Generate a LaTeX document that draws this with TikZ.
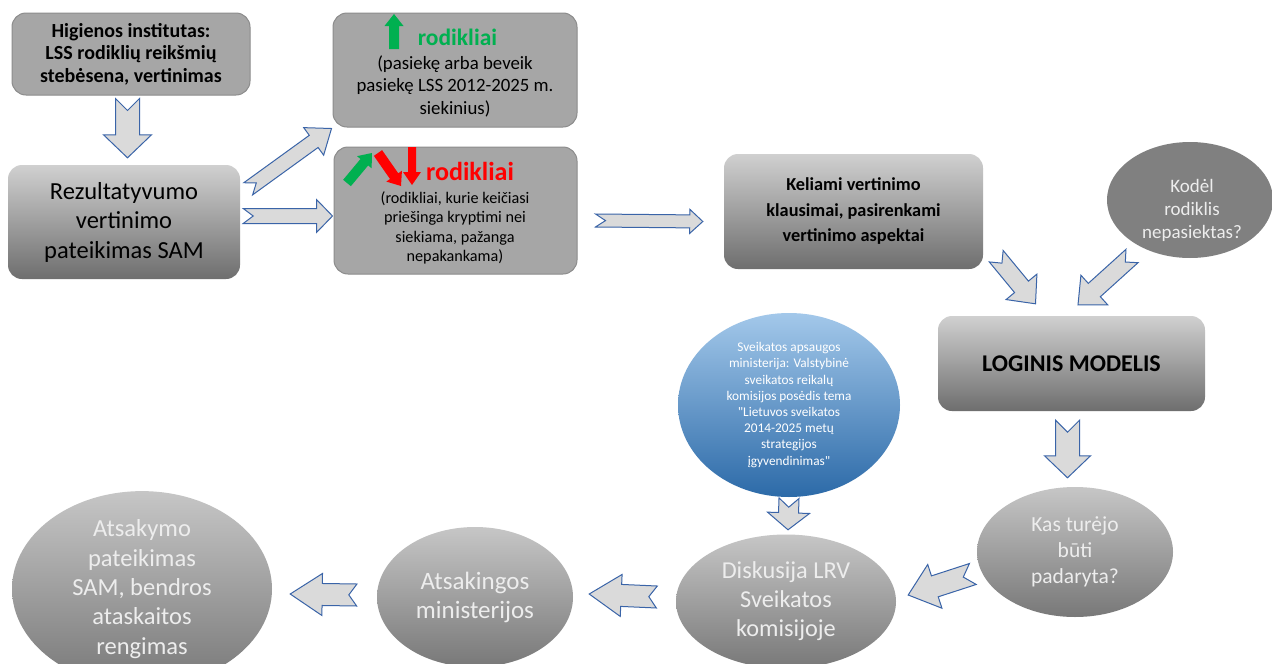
\documentclass[tikz,border=0pt]{standalone}
\usepackage{fontspec}
\setmainfont{Carlito}
\newfontfamily\plainfont{Carlito}
\usetikzlibrary{calc,shapes.geometric}
\definecolor{boxgray}{HTML}{A6A6A6}
\definecolor{boxline}{HTML}{8C8C8C}
\definecolor{gtop}{HTML}{D0D0D0}
\definecolor{gbot}{HTML}{6E6E6E}
\definecolor{etop}{HTML}{C6C6C6}
\definecolor{ebot}{HTML}{787878}
\definecolor{arrfill}{HTML}{DADADA}
\definecolor{arrline}{HTML}{3A64A8}
\definecolor{okgreen}{HTML}{00B050}
\definecolor{badred}{HTML}{FF0000}
\definecolor{btop}{HTML}{A3C8EA}
\definecolor{bbot}{HTML}{2C6AA8}
\definecolor{darkell}{HTML}{808080}
\definecolor{lighttxt}{HTML}{EDEDED}
\newcommand\blockarr[7]{%
  \coordinate (ba-s) at #2;
  \coordinate (ba-e) at #3;
  \coordinate (ba-h) at ($(ba-e)!#6!(ba-s)$);
  \path[#1] ($(ba-s)!#4!90:(ba-e)$) -- ($(ba-h)!#4!90:(ba-e)$) -- ($(ba-h)!#5!90:(ba-e)$)
    -- (ba-e) -- ($(ba-h)!#5!-90:(ba-e)$) -- ($(ba-h)!#4!-90:(ba-e)$)
    -- ($(ba-s)!#4!-90:(ba-e)$) -- ($(ba-s)!#7!(ba-e)$) -- cycle;
}
\tikzset{
  flatbox/.style={draw=boxline, line width=1pt, fill=boxgray, rounded corners=14pt, inner sep=0pt},
  gradbox/.style={top color=gtop, bottom color=gbot, draw=none, rounded corners=14pt, inner sep=0pt, align=center},
  grayell/.style={ellipse, top color=etop, bottom color=ebot, draw=none, inner sep=0pt, align=center, text=lighttxt},
  barrow/.style={fill=arrfill, draw=arrline, line width=1pt, line join=miter},
  garrow/.style={fill=okgreen, draw=none},
  rarrow/.style={fill=badred, draw=none},
}
\begin{document}
\begin{tikzpicture}[x=1pt,y=-1pt]
\useasboundingbox[fill=white] (0,0) rectangle (1272,664);

% top-left box
\node[flatbox, minimum width=238pt, minimum height=82pt, align=center,
      font=\bfseries\fontsize{20}{22.5}\selectfont] (hig) at (131,54)
  {Higienos institutas:\\LSS rodiklių reikšmių\\stebėsena, vertinimas};

\node[gradbox, minimum width=232pt, minimum height=114pt,
      font=\fontsize{24.5}{29.5}\selectfont] (rez) at (124,222)
  {Rezultatyvumo\\vertinimo\\pateikimas SAM};

% box C
\node[flatbox, minimum width=244pt, minimum height=114pt] (rodC) at (455,70) {};
\node[font=\bfseries\fontsize{23.5}{24}\selectfont, text=okgreen, inner sep=0pt] (hdrC) at (457.5,37) {rodikliai};
\node[font=\fontsize{18.8}{22.5}\selectfont, align=center, inner sep=0pt] (txtC) at (455,86)
  {(pasiekę arba beveik\\pasiekę LSS 2012-2025 m.\\siekinius)};
\blockarr{garrow}{(394,49)}{(394,14)}{5pt}{9.5pt}{12pt}{0pt}

% box D
\node[flatbox, minimum width=243pt, minimum height=127pt] (rodD) at (455.5,210.5) {};
\node[font=\bfseries\fontsize{26}{26}\selectfont, text=badred, inner sep=0pt] (hdrD) at (470,171) {rodikliai};
\node[font=\fontsize{16.2}{19.5}\selectfont, align=center, inner sep=0pt] (txtD) at (455,228)
  {(rodikliai, kurie keičiasi\\priešinga kryptimi nei\\siekiama, pažanga\\nepakankama)};
\blockarr{garrow}{(347,183)}{(372,153)}{5pt}{9.5pt}{12pt}{0pt}
\blockarr{rarrow}{(378,153)}{(401,186)}{5pt}{9.5pt}{12pt}{0pt}
\blockarr{rarrow}{(412,147)}{(412,185)}{4pt}{9pt}{13pt}{0pt}

% box E
\node[gradbox, minimum width=259pt, minimum height=115pt,
      font=\bfseries\fontsize{18.3}{25.5}\selectfont] (kel) at (853.5,211.5)
  {Keliami vertinimo\\klausimai, pasirenkami\\vertinimo aspektai};

% ellipse F
\node[ellipse, fill=darkell, minimum width=166pt, minimum height=116pt, inner sep=0pt] (kod) at (1190,200) {};
\node[align=center, text=lighttxt, inner sep=0pt, font=\fontsize{19}{23}\selectfont] (kodtxt) at ($(kod.center)+(2,10)$)
  {Kodėl\\rodiklis\\nepasiektas?};

% box G
\node[gradbox, minimum width=267pt, minimum height=95pt,
      font=\bfseries\fontsize{24}{24}\selectfont] (log) at (1071.5,363.5) {LOGINIS MODELIS};

% blue ellipse I
\node[ellipse, top color=btop, bottom color=bbot, draw=none, minimum width=222pt, minimum height=184pt,
      inner sep=0pt, align=center, text=white, font=\plainfont\fontsize{13.3}{16.2}\selectfont] (sam) at (789,405)
  {Sveikatos apsaugos\\ministerija: Valstybinė\\sveikatos reikalų\\komisijos posėdis tema\\"Lietuvos sveikatos\\2014-2025 metų\\strategijos\\įgyvendinimas"};

% ellipse H
\node[grayell, minimum width=196pt, minimum height=130pt, font=\fontsize{21.5}{26}\selectfont] (kas) at (1075,552)
  {Kas turėjo\\būti\\padaryta?};

% ellipse J
\node[grayell, minimum width=220pt, minimum height=134pt, font=\fontsize{24.3}{29}\selectfont] (dis) at (786,601.5)
  {Diskusija LRV\\Sveikatos\\komisijoje};

% ellipse K
\node[grayell, minimum width=196pt, minimum height=140pt, font=\fontsize{25}{29}\selectfont] (ats) at (475,597)
  {Atsakingos\\ministerijos};

% ellipse L
\node[grayell, minimum width=260pt, minimum height=176pt, font=\fontsize{24.5}{29.3}\selectfont] (atsak) at (142,589)
  {Atsakymo\\pateikimas\\SAM, bendros\\ataskaitos\\rengimas};

% block arrows
\blockarr{barrow}{($(hig.south)+(-3.5,3)$)}{($(rez.north)+(3.5,-7)$)}{12pt}{24pt}{23pt}{12pt}
\blockarr{barrow}{($(rez.north east)+(8,24)$)}{($(rodC.south west)+(-1,1)$)}{7.5pt}{17pt}{22pt}{10pt}
\blockarr{barrow}{($(rez.east)+(3,-6)$)}{($(rodD.west)+(-1,5.5)$)}{7.5pt}{16.5pt}{16pt}{10pt}
\blockarr{barrow}{($(rodD.east)+(18,10)$)}{($(kel.west)+(-21,10)$)}{6.5pt}{12pt}{13pt}{10pt}
\blockarr{barrow}{($(kel.south east)+(13,-13)$)}{($(log.north)+(-36,-12)$)}{9pt}{20pt}{22pt}{9pt}
\blockarr{barrow}{($(kod.center)+(-58,56)$)}{($(log.north)+(6.5,-11)$)}{9pt}{20pt}{22pt}{9pt}
\blockarr{barrow}{($(log.south)+(-4,9)$)}{($(kas.north)+(-7.5,-9)$)}{12pt}{23pt}{22pt}{12pt}
\blockarr{barrow}{($(sam.south)+(0,1)$)}{($(dis.north)+(2,-4.5)$)}{10pt}{21pt}{17pt}{9pt}
\blockarr{barrow}{($(kas.west)+(-4,22)$)}{($(dis.east)+(12,-6.5)$)}{11pt}{23pt}{28pt}{10pt}
\blockarr{barrow}{($(dis.west)+(-19,-4.5)$)}{($(ats.east)+(16,-3)$)}{11pt}{21pt}{32pt}{8pt}
\blockarr{barrow}{($(ats.west)+(-20,-2)$)}{($(atsak.east)+(18,5)$)}{11pt}{21pt}{32pt}{8pt}
\end{tikzpicture}
\end{document}
